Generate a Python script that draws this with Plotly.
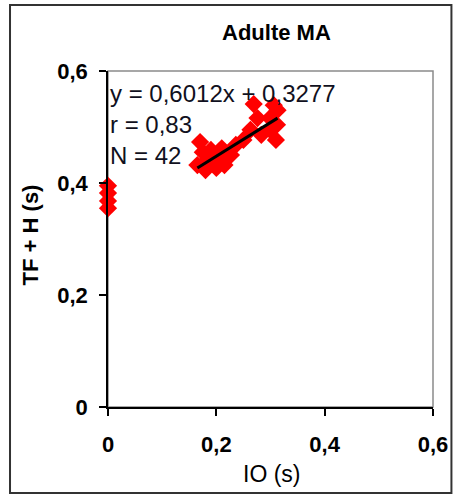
import plotly.graph_objects as go

# Data
io_zero = [0.0, 0.0, 0.0, 0.0]
tfh_zero = [0.395, 0.382, 0.368, 0.355]

io_cluster = [0.170, 0.165, 0.183, 0.190, 0.204, 0.215, 0.200, 0.180, 0.227, 0.236,
              0.250, 0.263, 0.269, 0.276, 0.283, 0.299, 0.310, 0.313, 0.306, 0.299,
              0.312, 0.175, 0.195, 0.210]
tfh_cluster = [0.473, 0.432, 0.441, 0.459, 0.445, 0.432, 0.427, 0.423, 0.450, 0.468,
               0.477, 0.495, 0.541, 0.516, 0.486, 0.495, 0.477, 0.530, 0.539, 0.516,
               0.504, 0.455, 0.438, 0.462]

slope = 0.6012
intercept = 0.3277
eq_lines = ["y = 0,6012x + 0,3277", "r = 0,83", "N = 42"]

tick_vals = [0, 0.2, 0.4, 0.6]
tick_text = ["0", "0,2", "0,4", "0,6"]

FONT = "Liberation Sans, Arial, sans-serif"

all_x = io_zero + io_cluster
all_y = tfh_zero + tfh_cluster

fig = go.Figure()
fig.add_trace(go.Scatter(
    x=all_x, y=all_y, mode="markers",
    marker=dict(symbol="diamond", size=14, color="#ff0000", line=dict(width=0)),
    cliponaxis=False, showlegend=False))

lx = [min(io_cluster), max(io_cluster)]
ly = [slope * v + intercept for v in lx]
fig.add_trace(go.Scatter(x=lx, y=ly, mode="lines",
                         line=dict(color="black", width=3), showlegend=False))

# Plot-area border (gray) and outer frame
fig.add_shape(type="rect", xref="paper", yref="paper", x0=0, y0=0, x1=1, y1=1,
              line=dict(color="#8a8a8a", width=1.5), layer="below")
fig.add_shape(type="rect", xref="paper", yref="paper",
              x0=(7 - 108) / 335, x1=(462 - 108) / 335,
              y0=(407 - 493) / 336, y1=(407 - 5) / 336,
              line=dict(color="#333333", width=2))

ys = [(407 - 93) / 560, (407 - 124) / 560, (407 - 155) / 560]
for t, yv in zip(eq_lines, ys):
    fig.add_annotation(x=0, y=yv, xref="x", yref="y", text=t, showarrow=False,
                       xanchor="left", yanchor="middle", xshift=0,
                       font=dict(family=FONT, size=24, color="#101020"))

fig.add_annotation(x=(282 - 108) / 335, y=(407 - 33) / 336, xref="paper", yref="paper",
                   text="<b>Adulte MA</b>", showarrow=False, xanchor="center", yanchor="middle",
                   font=dict(family=FONT, size=22, color="black"))
fig.add_annotation(x=(277 - 108) / 335, y=(407 - 474) / 336, xref="paper", yref="paper",
                   text="IO (s)", showarrow=False, xanchor="center", yanchor="middle",
                   font=dict(family=FONT, size=23, color="black"))
fig.add_annotation(x=(28 - 108) / 335, y=(407 - 235) / 336, xref="paper", yref="paper",
                   text="<b>TF + H (s)</b>", showarrow=False, xanchor="center", yanchor="middle",
                   textangle=-90, font=dict(family=FONT, size=22, color="black"))

axis_common = dict(
    range=[0, 0.6], tickvals=tick_vals, ticktext=tick_text,
    showgrid=False, zeroline=False, showline=True, linecolor="black", linewidth=1.5,
    ticks="outside", ticklen=7, tickwidth=1.5, tickcolor="black",
    tickfont=dict(family=FONT, size=22, color="black", weight="bold"),
    fixedrange=True,
)
fig.update_xaxes(**axis_common, ticklabelstandoff=10)
fig.update_yaxes(**axis_common, ticklabelstandoff=7)

fig.update_layout(
    width=460, height=495,
    margin=dict(l=108, r=17, t=71, b=88),
    paper_bgcolor="white", plot_bgcolor="white",
    showlegend=False,
)

fig.write_html("out.html", config={"displayModeBar": False},
               post_script="document.body.style.margin='0';")
